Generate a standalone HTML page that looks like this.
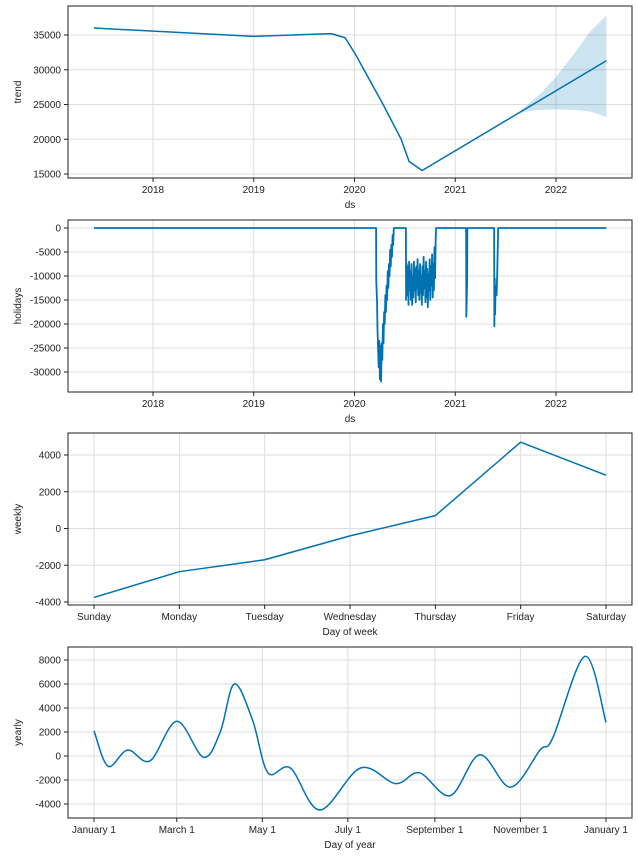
<!DOCTYPE html>
<html><head><meta charset="utf-8"><style>
body{margin:0;background:#fff;font-family:"Liberation Sans",sans-serif}
svg text{font-family:"Liberation Sans",sans-serif;fill:#222}
</style></head><body>
<svg id="c" width="638" height="856" xmlns="http://www.w3.org/2000/svg"></svg>
<script>
// ---- trend data ----
const trendDates=[2017.414,2019.003,2019.768,2019.907,2020.006,2020.284,2020.463,2020.542,2020.671,2021.625,2022.5];
const trendVals=[36000,34800,35200,34600,32300,25000,20000,16800,15500,23740,31300];
const bandDates=[2021.625,2021.744,2021.843,2022.002,2022.19,2022.34,2022.5];
const bandUpper=[23800,25300,26500,29000,32500,35500,37800];
const bandLower=[23700,24100,24200,24300,24200,24000,23200];
const trendTicks=[15000,20000,25000,30000,35000];
const yearTicks=[2018,2019,2020,2021,2022];
// ---- holidays data ----
const holDates=[2017.414,2020.214,2020.216,2020.224,2020.228,2020.234,2020.240,2020.246,2020.252,2020.258,2020.264,2020.270,2020.276,2020.282,2020.288,2020.294,2020.300,2020.306,2020.312,2020.318,2020.324,2020.330,2020.336,2020.342,2020.348,2020.354,2020.360,2020.366,2020.372,2020.378,2020.384,2020.390,2020.396,2020.402,2020.408,2020.413,2020.423,2020.510,2020.512,2020.518,2020.524,2020.530,2020.536,2020.542,2020.548,2020.554,2020.560,2020.566,2020.572,2020.578,2020.584,2020.590,2020.596,2020.602,2020.608,2020.614,2020.620,2020.626,2020.632,2020.638,2020.644,2020.650,2020.656,2020.662,2020.668,2020.674,2020.680,2020.686,2020.692,2020.698,2020.704,2020.710,2020.716,2020.722,2020.728,2020.734,2020.740,2020.746,2020.752,2020.758,2020.764,2020.770,2020.776,2020.782,2020.788,2020.794,2020.800,2020.806,2020.810,2020.812,2021.108,2021.110,2021.118,2021.120,2021.386,2021.388,2021.392,2021.396,2021.400,2021.410,2021.416,2021.426,2021.430,2021.446,2022.5];
const holVals=[0,0,-11000,-15500,-21000,-25000,-29000,-23500,-31500,-24500,-32000,-24000,-27500,-20000,-24000,-17500,-20000,-14000,-17500,-12000,-15000,-9000,-12500,-7500,-10000,-4500,-8000,-3500,-6000,-1500,-3500,0,0,0,0,0,0,0,-15000,-7500,-14000,-8000,-16000,-7000,-13000,-9000,-15000,-7500,-16000,-10000,-14500,-7000,-13000,-8500,-15500,-8000,-12500,-6500,-14000,-9000,-15000,-7500,-13500,-10000,-16000,-8000,-14000,-6000,-12500,-9000,-15500,-7000,-14500,-8500,-16500,-9500,-13000,-6500,-15000,-8000,-12000,-5500,-14500,-7500,-13000,-4000,-10500,-2000,0,0,0,-18500,-11000,0,0,-20500,-10500,-18000,-12000,-14000,-10000,0,0,0,0];
const holTicks=[-30000,-25000,-20000,-15000,-10000,-5000,0];
// ---- weekly data ----
const days=["Sunday","Monday","Tuesday","Wednesday","Thursday","Friday","Saturday"];
const weeklyVals=[-3750,-2350,-1700,-400,700,4700,2900];
const weeklyTicks=[-4000,-2000,0,2000,4000];
// ---- yearly data ----
const yearDays=[0,10,24,40,59,78,90,100,113,124,140,161,190,215,232,254,275,297,318,327,350,365];
const yearlyVals=[2100,-850,500,-400,2900,-100,2000,6000,3000,-1400,-1000,-4500,-1000,-2300,-1400,-3300,100,-2600,500,1500,8300,2800];
const yearlyTicks=[-4000,-2000,0,2000,4000,6000,8000];
const monthLabels=["January 1","March 1","May 1","July 1","September 1","November 1","January 1"];
const monthDays=[0,59,120,181,243,304,365];

const svg=document.getElementById('c');const NS='http://www.w3.org/2000/svg';
function mk(t,a,p){const e=document.createElementNS(NS,t);for(const k in a)e.setAttribute(k,a[k]);(p||svg).appendChild(e);return e;}
function lin(d0,d1,r0,r1){return v=>r0+(v-d0)*(r1-r0)/(d1-d0);}
const L=68,R=632;
function panel(name,top,bot,xs,ys,yt,xt,xlab,ylab){
  const g=mk('g',{});
  
  
  yt.forEach(v=>{const y=ys(v);
    const l=mk('line',{x1:L,x2:R,y1:y,y2:y,stroke:'#ddd','stroke-width':1},g);
    mk('line',{x1:L-4,x2:L,y1:y,y2:y,stroke:'#222'},g);
    const t=mk('text',{x:L-7,y:y+3.5,'text-anchor':'end','font-size':10},g);t.textContent=v;});
  xt.forEach(([v,lab])=>{const x=xs(v);
    const l=mk('line',{x1:x,x2:x,y1:top,y2:bot,stroke:'#ddd'},g);
    mk('line',{x1:x,x2:x,y1:bot,y2:bot+4,stroke:'#222'},g);
    const t=mk('text',{x:x,y:bot+15,'text-anchor':'middle','font-size':10},g);t.textContent=lab;});
  const xl=mk('text',{x:(L+R)/2,y:bot+30,'text-anchor':'middle','font-size':10},g);xl.textContent=xlab;
  const yl=mk('text',{x:0,y:0,'text-anchor':'middle','font-size':10,transform:`translate(21,${(top+bot)/2}) rotate(-90)`},g);yl.textContent=ylab;
  const f=mk('rect',{x:L,y:top,width:R-L,height:bot-top,fill:'none',stroke:'#222','stroke-width':1},g);
  return g;
}
function poly(g,pts,name,w){const p=mk('polyline',{points:pts.map(q=>q.join(',')).join(' '),fill:'none',stroke:'#0072B2','stroke-width':w||1.5,'stroke-linejoin':'round'},g);return p;}
const yx=lin(2018,2022,153,556);
// trend
{const ys=lin(15000,35000,174,35);
 const g=panel('trend',6,178,yx,ys,trendTicks,yearTicks.map(y=>[y,y]),'ds','trend');
 const up=bandDates.map((d,i)=>[yx(d),ys(bandUpper[i])]);const lo=bandDates.map((d,i)=>[yx(d),ys(bandLower[i])]).reverse();
 const b=mk('polygon',{points:up.concat(lo).map(q=>q.join(',')).join(' '),fill:'#0072B2','fill-opacity':0.2,stroke:'none'},g);
 poly(g,trendDates.map((d,i)=>[yx(d),ys(trendVals[i])]),'trend-line');}
// holidays
{const ys=lin(0,-30000,228,372);
 const g=panel('holidays',220,392,yx,ys,holTicks,yearTicks.map(y=>[y,y]),'ds','holidays');
 poly(g,holDates.map((d,i)=>[yx(d),ys(holVals[i])]),'holidays-line',1.8);}
// weekly
{const xs=lin(0,6,94,606);const ys=lin(-4000,4000,602,455);
 const g=panel('weekly',433,605,xs,ys,weeklyTicks,days.map((d,i)=>[i,d]),'Day of week','weekly');
 poly(g,weeklyVals.map((v,i)=>[xs(i),ys(v)]),'weekly-line');}
// yearly
{const xs=lin(0,365,94,606);const ys=lin(-4000,8000,804,660);
 const g=panel('yearly',647,818,xs,ys,yearlyTicks,monthDays.map((d,i)=>[d,monthLabels[i]]),'Day of year','yearly');
 const P=yearDays.map((d,i)=>[xs(d),ys(yearlyVals[i])]);let s=`M${P[0][0]},${P[0][1]}`;
 for(let i=0;i<P.length-1;i++){const p0=P[Math.max(0,i-1)],p1=P[i],p2=P[i+1],p3=P[Math.min(P.length-1,i+2)];
  s+=` C${p1[0]+(p2[0]-p0[0])/6},${p1[1]+(p2[1]-p0[1])/6} ${p2[0]-(p3[0]-p1[0])/6},${p2[1]-(p3[1]-p1[1])/6} ${p2[0]},${p2[1]}`;}
 const p=mk('path',{d:s,fill:'none',stroke:'#0072B2','stroke-width':1.5},g);}
</script>
</body></html>
